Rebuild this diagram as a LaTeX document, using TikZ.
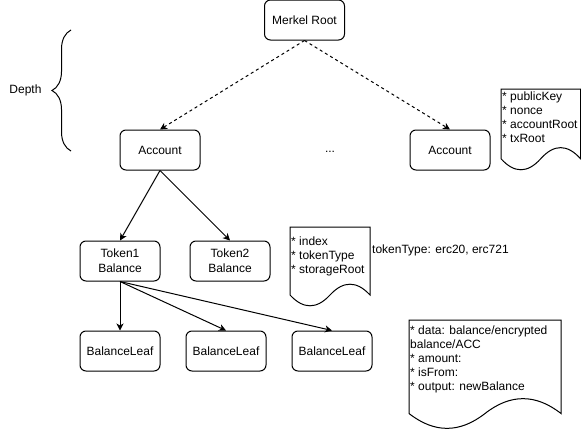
\documentclass[tikz,border=0pt]{standalone}
\usepackage{fontspec}
\setmainfont{Liberation Sans}
\usepackage{tikz}
\usetikzlibrary{arrows.meta,positioning,decorations.pathreplacing}

% document shape with a wavy bottom edge: x, y, width, height
\newcommand{\drawdoc}[4]{%
\pgfmathsetmacro{\docdy}{0.3*#4}
\draw[line width=1pt] (#1,#2) -- ({#1+#3},#2) -- ({#1+#3},{#2+#4-\docdy/2})
.. controls ({#1+5*#3/6},{#2+#4-1.1*\docdy}) and ({#1+2*#3/3},{#2+#4-1.1*\docdy}) .. ({#1+#3/2},{#2+#4-\docdy/2})
.. controls ({#1+#3/3},{#2+#4+0.1*\docdy}) and ({#1+#3/6},{#2+#4+0.1*\docdy}) .. (#1,{#2+#4-\docdy/2}) -- cycle;}

\begin{document}
\begin{tikzpicture}[
x=1pt, y=-1pt,
node distance=49pt and 25pt,
treebox/.style={draw, rounded corners=6pt, line width=1pt, align=center,
minimum width=80pt, minimum height=40pt, inner sep=0pt,
font=\fontsize{12}{15}\selectfont},
doctext/.style={anchor=north west, align=left, inner sep=0pt,
font=\fontsize{12}{14}\selectfont},
plaintext/.style={inner sep=0pt, font=\fontsize{12}{14}\selectfont},
treearrow/.style={-{Stealth[length=7pt,width=7pt,inset=2pt]}, line width=1pt},
linkarrow/.style={treearrow, dashed}
]
\useasboundingbox (0,0) rectangle (581,431);

\node[treebox] (mkroot) at (304.5,20) {Merkel Root};
\node[treebox] (acct1) at (160,150) {Account};
\node[treebox] (acct2) at (450,150) {Account};
\node[plaintext] (dots) at (330,152) {...};
\node[treebox] (tok1) at (120,261) {Token1\\Balance};
\node[treebox, right=29pt of tok1] (tok2) {Token2\\Balance};
\node[treebox, below=of tok1] (leaf1) {BalanceLeaf};
\node[treebox, right=of leaf1] (leaf2) {BalanceLeaf};
\node[treebox, right=of leaf2] (leaf3) {BalanceLeaf};

% depth brace
\node[plaintext] (depth) at (25.5,90) {Depth};
\draw[line width=1pt, decorate, decoration={brace, amplitude=19pt}] (71,151) -- (71,30);

% notes
\drawdoc{501}{89}{79.5}{82}
\node[doctext] (acctnote) at (502,92) {* publicKey\\* nonce\\* accountRoot\\* txRoot};
\drawdoc{290}{227}{80}{80}
\node[doctext] (toknote) at (291,237) {* index\\* tokenType\\* storageRoot};
\node[plaintext, anchor=west] (toktype) at (372,250) {tokenType: erc20, erc721};
\drawdoc{409}{320}{152}{110}
\node[doctext] (leafnote) at (410,326) {* data: balance/encrypted\\balance/ACC\\* amount:\\* isFrom:\\* output: newBalance};

\draw[linkarrow] (mkroot.south) -- (acct1.north);
\draw[linkarrow] (mkroot.south) -- (acct2.north);
\draw[treearrow] (acct1.south) -- (tok1.north);
\draw[treearrow] (acct1.south) -- (tok2.north);
\draw[treearrow] (tok1.south) -- (leaf1.north);
\draw[treearrow] (tok1.south) -- (leaf2.north);
\draw[treearrow] (tok1.south) -- (leaf3.north);
\end{tikzpicture}
\end{document}
